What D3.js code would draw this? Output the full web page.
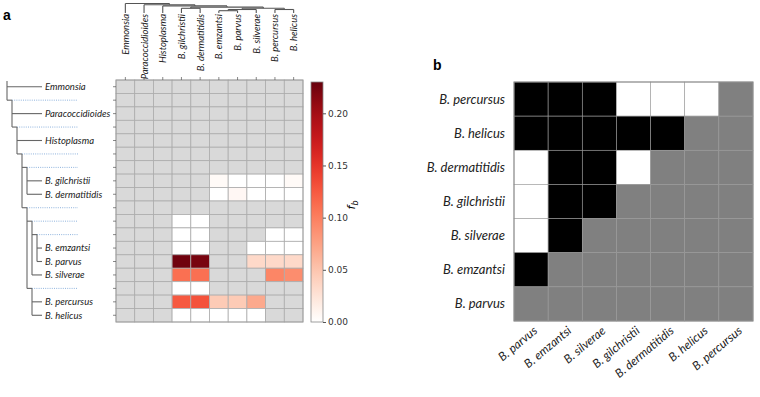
<!DOCTYPE html>
<html>
<head>
<meta charset="utf-8">
<script src="https://cdn.jsdelivr.net/npm/d3@7"></script>
<style>
  body { margin: 0; background: #fff; }
  svg { display: block; }
  .lab { font-family: Lato, "Open Sans", sans-serif; font-style: italic; fill: #222; }
  .tick { font-family: "DejaVu Sans", sans-serif; font-size: 9px; fill: #333; }
</style>
</head>
<body>
<div id="chart"></div>
<script>
// Tree rows (leaves and internal nodes except root), in row order.
const rowLabels = ["Emmonsia", "", "Paracoccidioides", "", "Histoplasma", "", "",
  "B. gilchristii", "B. dermatitidis", "", "", "", "B. emzantsi", "B. parvus",
  "B. silverae", "", "B. percursus", "B. helicus"];
// Parent row of each row (-1 = root).
const rowParent = [-1, -1, 1, 1, 3, 3, 5, 6, 6, 5, 9, 10, 11, 11, 10, 9, 15, 15];

// Columns of panel a: the leaves.
const colLabels = ["Emmonsia", "Paracoccidioides", "Histoplasma", "B. gilchristii",
  "B. dermatitidis", "B. emzantsi", "B. parvus", "B. silverae", "B. percursus", "B. helicus"];

// f_b per row (node) and column (leaf); null = not defined.
const n = null;
const fbValues = [
  [n, n, n, n, n, n, n, n, n, n],
  [n, n, n, n, n, n, n, n, n, n],
  [n, n, n, n, n, n, n, n, n, n],
  [n, n, n, n, n, n, n, n, n, n],
  [n, n, n, n, n, n, n, n, n, n],
  [n, n, n, n, n, n, n, n, n, n],
  [n, n, n, n, n, n, n, n, n, n],
  [n, n, n, n, n, 0.005, 0, 0, 0, 0.005],
  [n, n, n, n, n, 0, 0.007, 0, 0, 0],
  [n, n, n, n, n, n, n, n, n, n],
  [n, n, n, 0, 0, n, n, n, n, n],
  [n, n, n, 0, 0, n, n, n, 0, 0],
  [n, n, n, 0, 0, n, n, 0, 0, 0],
  [n, n, n, 0.226, 0.222, n, n, 0.034, 0.034, 0.034],
  [n, n, n, 0.11, 0.11, n, n, n, 0.095, 0.09],
  [n, n, n, 0, 0, n, n, n, n, n],
  [n, n, n, 0.125, 0.13, 0.045, 0.045, 0.07, n, n],
  [n, n, n, 0, 0, 0, 0, 0, n, n]
];
const cbTicks = [0, 0.05, 0.10, 0.15, 0.20];
const cbMax = 0.23;

// Panel b: 1 = black, 0 = white, null = grey.
const bLabelsRows = ["B. percursus", "B. helicus", "B. dermatitidis", "B. gilchristii",
  "B. silverae", "B. emzantsi", "B. parvus"];
const bLabelsCols = ["B. parvus", "B. emzantsi", "B. silverae", "B. gilchristii",
  "B. dermatitidis", "B. helicus", "B. percursus"];
const bValues = [
  [1, 1, 1, 0, 0, 0, n],
  [1, 1, 1, 1, 1, n, n],
  [0, 1, 1, 0, n, n, n],
  [0, 1, 1, n, n, n, n],
  [0, 1, n, n, n, n, n],
  [1, n, n, n, n, n, n],
  [n, n, n, n, n, n, n]
];

const W = 760, H = 397;
const svg = d3.select("#chart").append("svg")
  .attr("width", W).attr("height", H)
  .attr("viewBox", [0, 0, W, H]);

// Panel labels
svg.append("text").attr("x", 3).attr("y", 20)
  .attr("font-family", "Liberation Sans, Arial, sans-serif").attr("font-weight", "bold")
  .attr("font-size", 14).text("a");
svg.append("text").attr("x", 433).attr("y", 70)
  .attr("font-family", "Liberation Sans, Arial, sans-serif").attr("font-weight", "bold")
  .attr("font-size", 14).text("b");

// ---------- Panel a heatmap ----------
const x = d3.scaleBand().domain(d3.range(colLabels.length)).range([116, 303]);
const y = d3.scaleBand().domain(d3.range(rowLabels.length)).range([80, 322]);
// Reds, but starting from pure white as in the figure
const reds = ["#ffffff"].concat(d3.schemeReds[9].slice(1));
const interp = d3.interpolateRgbBasis(reds);
const color = d3.scaleSequential(interp).domain([0, cbMax]);

const cells = [];
fbValues.forEach((row, r) => row.forEach((v, c) => cells.push({r, c, v})));

const heat = svg.append("g");
heat.selectAll("rect")
  .data(cells)
  .join("rect")
  .attr("x", d => x(d.c))
  .attr("y", d => y(d.r))
  .attr("width", x.bandwidth())
  .attr("height", y.bandwidth())
  .attr("fill", d => d.v === null ? "#d9d9d9" : color(d.v))
  .attr("stroke", "#acacac")
  .attr("stroke-width", 0.8);
heat.append("rect")
  .attr("x", 116).attr("y", 80).attr("width", 187).attr("height", 242)
  .attr("fill", "none").attr("stroke", "#999").attr("stroke-width", 0.8);

// small ticks
heat.selectAll("line.lt")
  .data(d3.range(rowLabels.length))
  .join("line").attr("class", "lt")
  .attr("x1", 113).attr("x2", 116)
  .attr("y1", d => y(d) + y.bandwidth() / 2).attr("y2", d => y(d) + y.bandwidth() / 2)
  .attr("stroke", "#555").attr("stroke-width", 0.7);
heat.selectAll("line.tt")
  .data(d3.range(colLabels.length))
  .join("line").attr("class", "tt")
  .attr("y1", 77).attr("y2", 80)
  .attr("x1", d => x(d) + x.bandwidth() / 2).attr("x2", d => x(d) + x.bandwidth() / 2)
  .attr("stroke", "#555").attr("stroke-width", 0.7);

// ---------- Tree ----------
const treeData = [{id: "root", parentId: null}]
  .concat(rowParent.map((p, i) => ({id: "r" + i, parentId: p < 0 ? "root" : "r" + p, row: i})));
const tree = d3.stratify().id(d => d.id).parentId(d => d.parentId)(treeData);
// keep children in row order
tree.sort((a, b) => a.data.row - b.data.row);

// Left dendrogram
const depthX = d3.scaleLinear().domain([0, 1]).range([7, 12]);
const leafX = 42, dotEnd = 78;
const rowY = r => y(r) + y.bandwidth() / 2;
tree.each(d => {
  d.ly = d.data.id === "root" ? 81 : rowY(d.data.row);
  d.lx = d.children ? depthX(d.depth) : leafX;
});
const leftG = svg.append("g").attr("stroke", "#666").attr("stroke-width", 1.1).attr("fill", "none");
tree.each(d => {
  if (!d.children) return;
  const last = d.children[d.children.length - 1];
  leftG.append("line").attr("x1", d.lx).attr("x2", d.lx).attr("y1", d.ly).attr("y2", last.ly);
  d.children.forEach(c => {
    leftG.append("line").attr("x1", d.lx).attr("x2", c.lx).attr("y1", c.ly).attr("y2", c.ly);
    if (c.children) {
      leftG.append("line").attr("x1", c.lx).attr("x2", dotEnd).attr("y1", c.ly).attr("y2", c.ly)
        .attr("stroke", "#8fb3dd").attr("stroke-dasharray", "1,1.2").attr("stroke-width", 1);
    }
  });
});
svg.append("g").selectAll("text")
  .data(rowLabels.map((l, i) => ({l, i})).filter(d => d.l))
  .join("text").attr("class", "lab")
  .attr("x", leafX + 3).attr("y", d => rowY(d.i) + 3.3)
  .attr("font-size", 9.5)
  .text(d => d.l);

// Top dendrogram
const colIndexOfRow = {};
colLabels.forEach((l, c) => { colIndexOfRow[rowLabels.indexOf(l)] = c; });
const depthY = d3.scaleLinear().domain([0, 1]).range([3.5, 4.7]);
tree.eachAfter(d => {
  if (!d.children) {
    d.tx = x(colIndexOfRow[d.data.row]) + x.bandwidth() / 2;
    d.ty = 13;
  } else {
    d.tx = d3.mean(d.children, c => c.tx);
    d.ty = depthY(d.depth);
  }
});
const topG = svg.append("g").attr("stroke", "#555").attr("stroke-width", 1.1).attr("fill", "none");
tree.each(d => {
  if (!d.children) return;
  topG.append("line").attr("x1", d3.min(d.children, c => c.tx)).attr("x2", d3.max(d.children, c => c.tx))
    .attr("y1", d.ty).attr("y2", d.ty);
  d.children.forEach(c => {
    topG.append("line").attr("x1", c.tx).attr("x2", c.tx).attr("y1", d.ty).attr("y2", c.ty);
  });
});
svg.append("g").selectAll("text")
  .data(colLabels)
  .join("text").attr("class", "lab")
  .attr("font-size", 9.5)
  .attr("text-anchor", "end")
  .attr("transform", (d, i) => `translate(${x(i) + x.bandwidth() / 2 + 3.5},14) rotate(-90)`)
  .text(d => d);

// ---------- Colorbar ----------
const cbY = d3.scaleLinear().domain([0, cbMax]).range([322, 82]);
const grad = svg.append("defs").append("linearGradient")
  .attr("id", "cbgrad").attr("x1", 0).attr("y1", 1).attr("x2", 0).attr("y2", 0);
d3.range(0, 1.0001, 0.05).forEach(t => {
  grad.append("stop").attr("offset", t).attr("stop-color", interp(t));
});
svg.append("rect").attr("x", 311).attr("y", 82).attr("width", 12).attr("height", 240)
  .attr("fill", "url(#cbgrad)").attr("stroke", "#888").attr("stroke-width", 0.8);
const cbAxis = svg.append("g").attr("transform", "translate(323,0)")
  .call(d3.axisRight(cbY).tickValues(cbTicks).tickFormat(d3.format(".2f")).tickSize(3).tickPadding(2));
cbAxis.select(".domain").remove();
cbAxis.selectAll("line").attr("stroke", "#555");
cbAxis.selectAll("text").attr("class", "tick").attr("font-size", null).attr("font-family", null);
const fbLab = svg.append("text")
  .attr("transform", "translate(355,205) rotate(-90)")
  .attr("font-family", "DejaVu Sans, sans-serif").attr("font-size", 11).attr("font-style", "italic")
  .attr("text-anchor", "middle");
fbLab.append("tspan").text("f");
fbLab.append("tspan").attr("font-size", 8).attr("dy", 3).text("b");

// ---------- Panel b ----------
const bx = d3.scaleBand().domain(d3.range(bLabelsCols.length)).range([514, 753]);
const by = d3.scaleBand().domain(d3.range(bLabelsRows.length)).range([82, 321]);
const bColor = v => v === null ? "#808080" : (v === 1 ? "#000" : "#fff");
const bCells = [];
bValues.forEach((row, r) => row.forEach((v, c) => bCells.push({r, c, v})));
const pb = svg.append("g");
pb.selectAll("rect")
  .data(bCells)
  .join("rect")
  .attr("x", d => bx(d.c)).attr("y", d => by(d.r))
  .attr("width", bx.bandwidth()).attr("height", by.bandwidth())
  .attr("fill", d => bColor(d.v))
  .attr("stroke", "#9a9a9a").attr("stroke-width", 0.6);
pb.append("rect").attr("x", 514).attr("y", 82).attr("width", 239).attr("height", 239)
  .attr("fill", "none").attr("stroke", "#8a8a8a").attr("stroke-width", 1);

pb.selectAll("text.rl")
  .data(bLabelsRows)
  .join("text").attr("class", "lab rl")
  .attr("x", 505).attr("y", (d, i) => by(i) + by.bandwidth() / 2 + 4.5)
  .attr("text-anchor", "end").attr("font-size", 13)
  .text(d => d);
pb.selectAll("text.cl")
  .data(bLabelsCols)
  .join("text").attr("class", "lab cl")
  .attr("text-anchor", "end").attr("font-size", 12)
  .attr("transform", (d, i) => `translate(${bx(i) + bx.bandwidth() / 2 + 7},${332}) rotate(-40)`)
  .text(d => d);
</script>
</body>
</html>
